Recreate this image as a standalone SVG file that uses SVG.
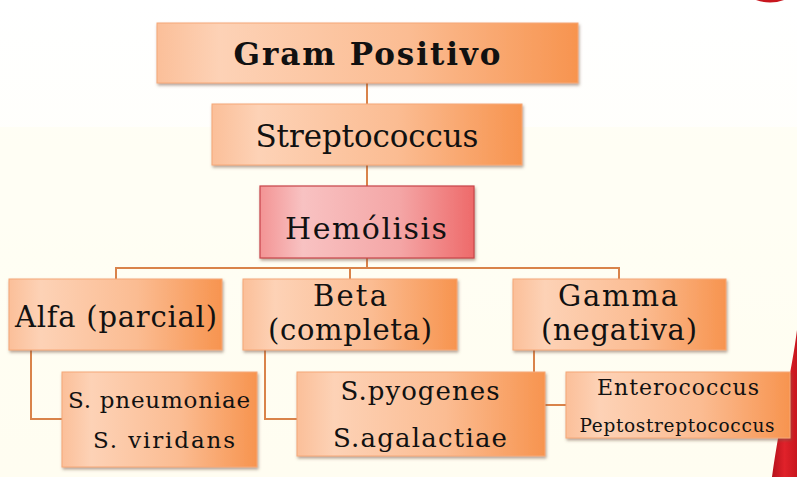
<svg xmlns="http://www.w3.org/2000/svg" width="797" height="477" viewBox="0 0 797 477">
<defs>
<linearGradient id="bg" x1="0" y1="0" x2="0" y2="1">
<stop offset="0" stop-color="#ffffff"/>
<stop offset="1" stop-color="#fffdf2"/>
</linearGradient>
<linearGradient id="og" x1="0" y1="0" x2="1" y2="0">
<stop offset="0" stop-color="#fbbf99"/>
<stop offset="0.15" stop-color="#fdd2b6"/>
<stop offset="0.6" stop-color="#fbbc92"/>
<stop offset="1" stop-color="#f7944f"/>
</linearGradient>
<linearGradient id="rg" x1="0" y1="0" x2="1" y2="0">
<stop offset="0" stop-color="#f39494"/>
<stop offset="0.2" stop-color="#f8c2c2"/>
<stop offset="0.65" stop-color="#f4a6a6"/>
<stop offset="1" stop-color="#ee6a6a"/>
</linearGradient>
<linearGradient id="redg" x1="0" y1="0" x2="1" y2="0">
<stop offset="0" stop-color="#b5121b"/>
<stop offset="0.5" stop-color="#e0222a"/>
<stop offset="1" stop-color="#c8161e"/>
</linearGradient>
<filter id="sh" x="-10%" y="-10%" width="120%" height="130%">
<feDropShadow dx="1" dy="2" stdDeviation="1.5" flood-color="#7a5a48" flood-opacity="0.55"/>
</filter>
</defs>
<style>
.box{fill:url(#og);stroke:#f6a878;stroke-width:1;filter:url(#sh)}
.hbox{fill:url(#rg);stroke:#c9454a;stroke-width:1.2;filter:url(#sh)}
.t{font-family:"DejaVu Serif","Liberation Serif",serif;fill:#111;text-anchor:middle}
.c{fill:none;stroke:#d9834a;stroke-width:2}
</style>
<rect x="0" y="0" width="797" height="477" fill="url(#bg)"/>
<rect x="0" y="127" width="797" height="350" fill="#fffdf0" opacity="0.6"/>
<path d="M797 330 C792 370 780 420 772 477 L797 477 Z" fill="url(#redg)"/>
<path d="M756 0 Q770 5 784 0 Z" fill="#c8161e"/>
<g id="connectors">
<path class="c" d="M367 83 V104"/>
<path class="c" d="M367 165 V186"/>
<path class="c" d="M367 258 V268"/>
<path class="c" d="M116 279 V268 H619 V279"/>
<path class="c" d="M350 268 V279"/>
<path class="c" d="M31 350 V419 H62"/>
<path class="c" d="M265 350 V419 H297"/>
<path class="c" d="M534 350 V372"/>
<path class="c" d="M545 405 H566"/>
</g>
<g id="gram">
<rect class="box" x="157" y="23" width="421" height="60"/>
<text class="t" x="367" y="65" font-size="31" font-weight="bold" textLength="267" lengthAdjust="spacing">Gram Positivo</text>
</g>
<g id="strep">
<rect class="box" x="212" y="104" width="310" height="61"/>
<text class="t" x="367" y="147" font-size="31" textLength="223" lengthAdjust="spacing">Streptococcus</text>
</g>
<g id="hemolisis">
<rect class="hbox" x="260" y="186" width="214" height="72"/>
<text class="t" x="366" y="239" font-size="30" textLength="162" lengthAdjust="spacing">Hemólisis</text>
</g>
<g id="alfa">
<rect class="box" x="9" y="279" width="213" height="71"/>
<text class="t" x="116" y="327" font-size="29" textLength="202" lengthAdjust="spacing">Alfa (parcial)</text>
</g>
<g id="beta">
<rect class="box" x="243" y="279" width="214" height="71"/>
<text class="t" x="350" y="306" font-size="29" textLength="74" lengthAdjust="spacing">Beta</text>
<text class="t" x="350" y="340" font-size="29" textLength="164" lengthAdjust="spacing">(completa)</text>
</g>
<g id="gamma">
<rect class="box" x="513" y="279" width="213" height="71"/>
<text class="t" x="618" y="306" font-size="29" textLength="120" lengthAdjust="spacing">Gamma</text>
<text class="t" x="619" y="340" font-size="29" textLength="156" lengthAdjust="spacing">(negativa)</text>
</g>
<g id="alfa-species">
<rect class="box" x="62" y="372" width="195" height="95"/>
<text class="t" x="159" y="408" font-size="23" textLength="182" lengthAdjust="spacing">S. pneumoniae</text>
<text class="t" x="164" y="448" font-size="23" textLength="142" lengthAdjust="spacing">S. viridans</text>
</g>
<g id="beta-species">
<rect class="box" x="297" y="372" width="248" height="84"/>
<text class="t" x="420" y="400" font-size="26" textLength="159" lengthAdjust="spacing">S.pyogenes</text>
<text class="t" x="420" y="447" font-size="26" textLength="174" lengthAdjust="spacing">S.agalactiae</text>
</g>
<g id="gamma-species">
<rect class="box" x="566" y="372" width="224" height="66"/>
<text class="t" x="678" y="395" font-size="22" textLength="162" lengthAdjust="spacing">Enterococcus</text>
<text class="t" x="677" y="432" font-size="18.5" textLength="195" lengthAdjust="spacing">Peptostreptococcus</text>
</g>
</svg>
